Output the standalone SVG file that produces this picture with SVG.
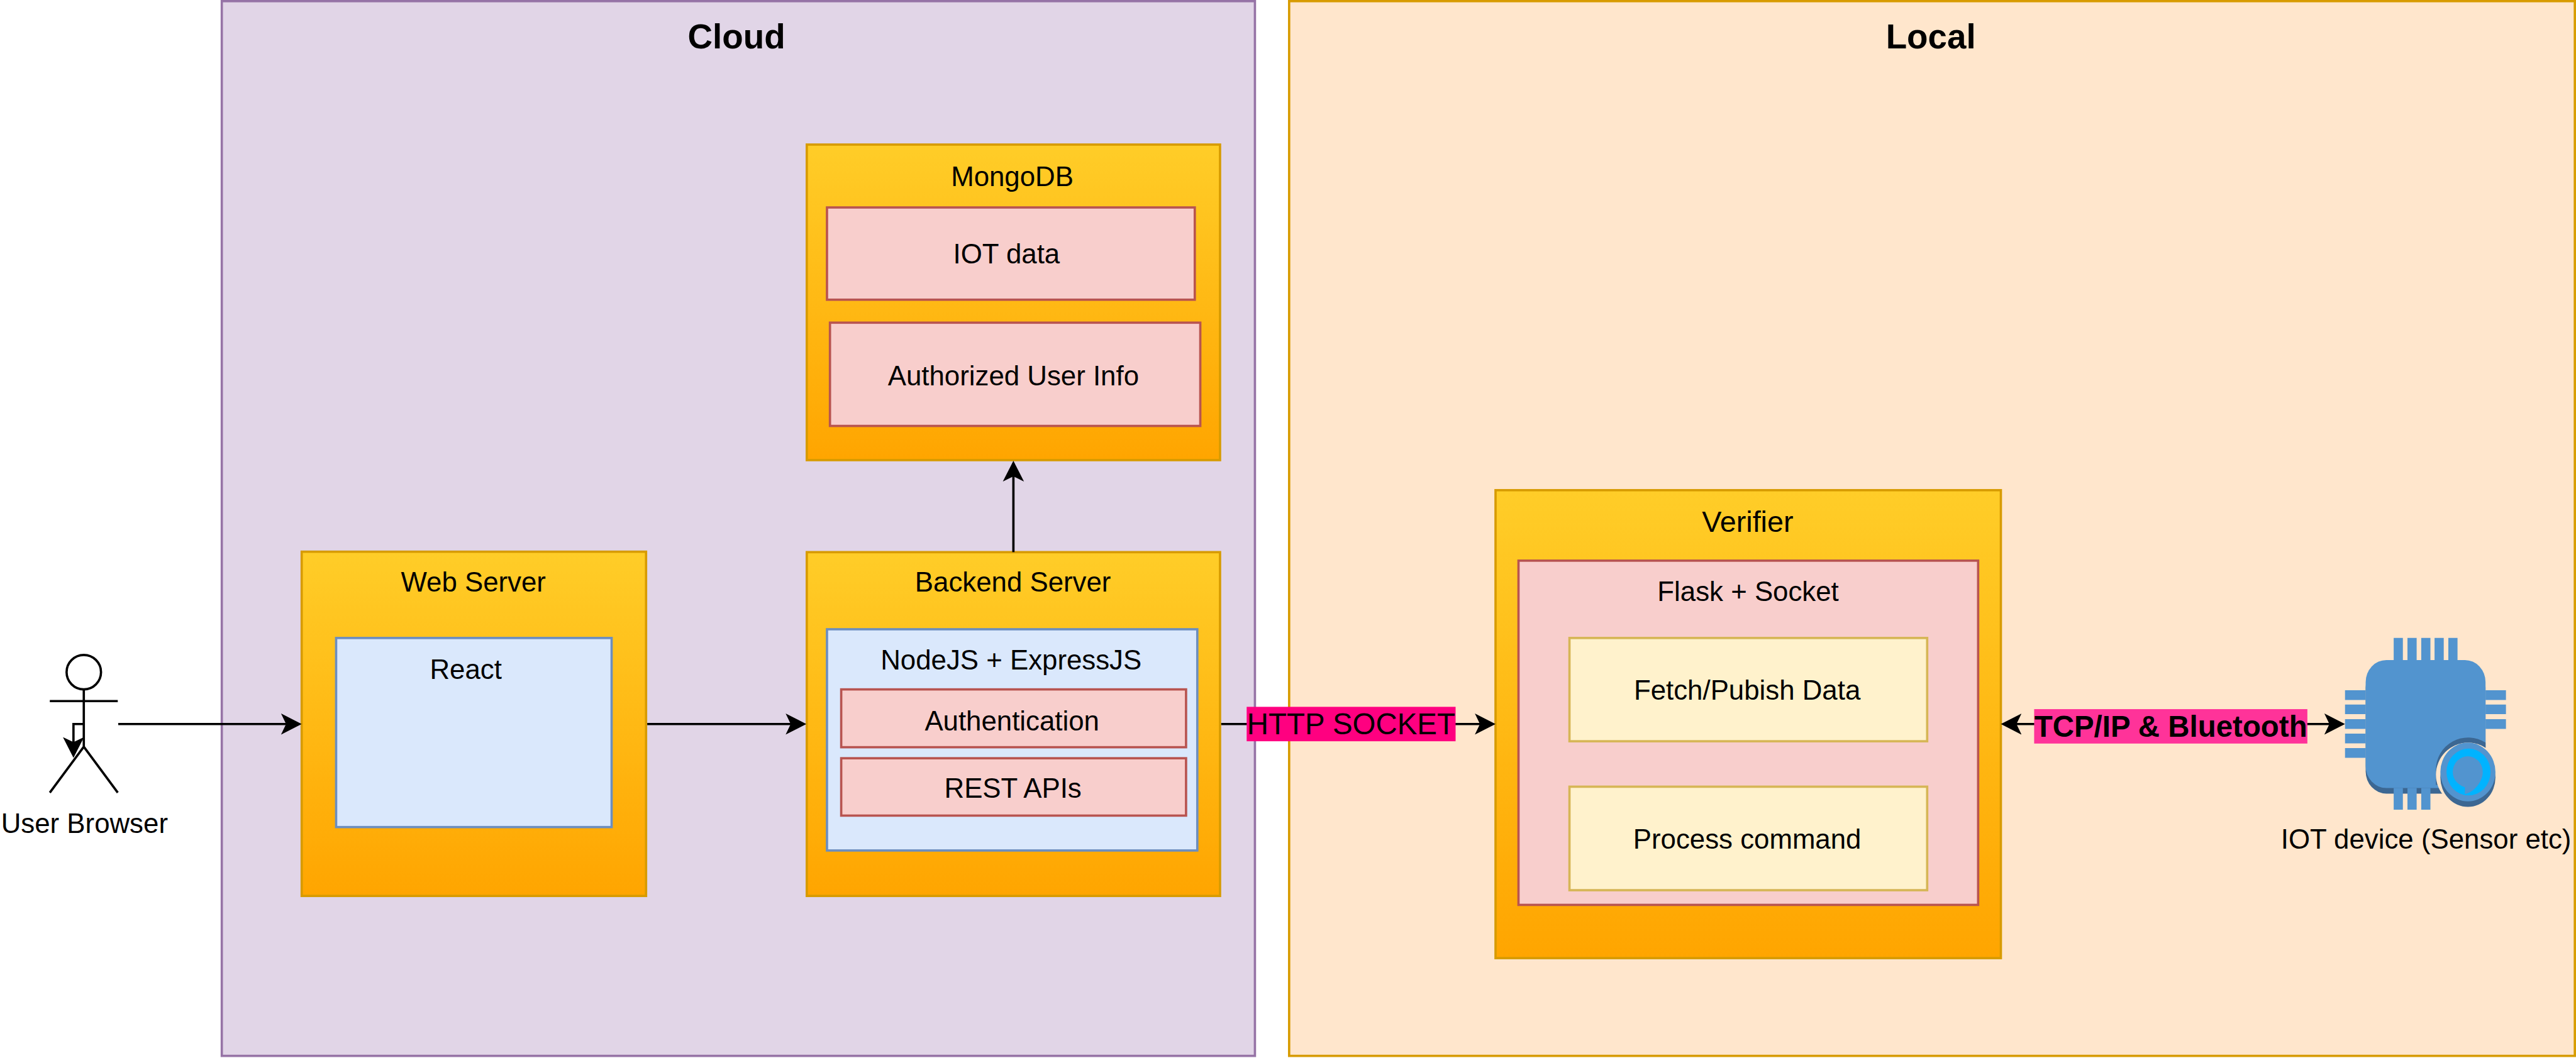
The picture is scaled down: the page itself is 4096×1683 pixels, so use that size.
<svg xmlns="http://www.w3.org/2000/svg" width="4096" height="1683" viewBox="0 0 4096 1683">
<style>
text{font-family:"Liberation Sans",Arial,sans-serif;font-size:60px;fill:#000;text-anchor:middle}
.title{font-size:75px;font-weight:bold}
.edge{font-size:65px}
.big{font-size:64px}
.bold{font-weight:bold}
rect,ellipse,path.s{stroke-width:5}
.grad{fill:url(#g);stroke:#d79b00}
.blue{fill:#dae8fc;stroke:#6c8ebf}
.red{fill:#f8cecc;stroke:#b85450}
.yellow{fill:#fff2cc;stroke:#d6b656}
.cloud{fill:#e1d5e7;stroke:#9673a6}
.local{fill:#ffe6cc;stroke:#d79b00}
.chip{fill:#5294cf;stroke:none}
.dark{fill:#3c6792;stroke:none}
.actor{fill:none;stroke:#000;stroke-width:5}
.conn{fill:none;stroke:#000;stroke-width:5;marker-end:url(#arrow)}
.both{marker-start:url(#arrow)}
</style>
<defs>
<linearGradient id="g" x1="0" y1="0" x2="0" y2="1"><stop offset="0" stop-color="#ffcd28"/><stop offset="1" stop-color="#ffa500"/></linearGradient>
<marker id="arrow" markerUnits="userSpaceOnUse" markerWidth="50" markerHeight="50" refX="40" refY="23" orient="auto-start-reverse" viewBox="0 0 50 46"><path d="M0 0L45 23L0 46L11 23Z" fill="#000"/></marker>
</defs>
<rect width="4096" height="1683" fill="#fff" style="stroke:none"/>
<g transform="scale(0.73012)">
<g id="cloud"><rect class="cloud" x="483" y="2.5" width="2250" height="2298"/><text class="title" x="1604" y="105">Cloud</text></g>
<g id="local"><rect class="local" x="2807.5" y="2.5" width="2800" height="2298"/><text class="title" x="4205" y="105">Local</text></g>
<g id="user-browser">
<ellipse class="actor" cx="182.5" cy="1464.5" rx="37.5" ry="37.5"/>
<path class="actor" d="M182.5 1502V1627M108.5 1527.5H256.5M108.5 1727L182.5 1627L256.5 1727"/>
<text x="184" y="1815">User Browser</text>
</g>
<g id="web-server"><rect class="grad" x="657" y="1202" width="750" height="750"/><text x="1031" y="1289.5">Web Server</text>
<g id="react"><rect class="blue" x="732" y="1390" width="600" height="412"/><text x="1014.5" y="1479.5">React</text></g></g>
<g id="backend-server"><rect class="grad" x="1757" y="1203" width="900" height="749"/><text x="2206" y="1289">Backend Server</text>
<g id="nodejs"><rect class="blue" x="1801" y="1371" width="806.5" height="482"/><text x="2202" y="1458">NodeJS + ExpressJS</text></g>
<g id="authentication"><rect class="red" x="1832" y="1502" width="751" height="126"/><text x="2204" y="1591">Authentication</text></g>
<g id="rest-apis"><rect class="red" x="1832" y="1652" width="751" height="125"/><text x="2206" y="1738">REST APIs</text></g></g>
<g id="mongodb"><rect class="grad" x="1757" y="315" width="900" height="687.5"/><text x="2204.5" y="405">MongoDB</text>
<g id="iot-data"><rect class="red" x="1801" y="452" width="801" height="201"/><text x="2192" y="574">IOT data</text></g>
<g id="user-info"><rect class="red" x="1807.5" y="703" width="806.5" height="225"/><text x="2207" y="840">Authorized User Info</text></g></g>
<g id="verifier"><rect class="grad" x="3257" y="1068" width="1100.5" height="1019.5"/><text class="big" x="3806" y="1159">Verifier</text>
<g id="flask"><rect class="red" x="3307" y="1221.5" width="1001" height="750"/><text x="3807" y="1309.5">Flask + Socket</text></g>
<g id="fetch"><rect class="yellow" x="3418" y="1390" width="779" height="225"/><text x="3805" y="1524.5">Fetch/Pubish Data</text></g>
<g id="process"><rect class="yellow" x="3418" y="1714" width="779" height="225.5"/><text x="3805" y="1848.5">Process command</text></g></g>
<g id="iot-device">
<rect class="dark" x="5152" y="1450" width="261" height="279" rx="45" ry="48"/>
<rect class="chip" x="5152" y="1438" width="261" height="279" rx="45" ry="48"/>
<path class="dark" d="M5413 1618A70 70 0 0 0 5305 1677V1710H5413Z"/>
<ellipse fill="#ffe6cc" style="stroke:none" cx="5375" cy="1688" rx="70" ry="70"/>
<ellipse class="dark" cx="5374.6" cy="1694" rx="60" ry="64"/>
<ellipse class="chip" cx="5374.6" cy="1682" rx="60" ry="64"/>
<ellipse fill="#00b3ff" style="stroke:none" cx="5376" cy="1682" rx="48" ry="51"/>
<path class="chip" d="M5368 1730V1715C5350 1710 5341.6 1695 5341.6 1682A32.7 34.5 0 0 1 5407 1682C5407 1705 5385 1728 5368 1730Z"/>
<path class="chip" d="M5213 1390h20v48h-20zM5243 1390h20v48h-20zM5273 1390h20v48h-20zM5302 1390h20v48h-20zM5332 1390h20v48h-20zM5213 1717h20v47h-20zM5243 1717h20v47h-20zM5273 1717h20v47h-20zM5107 1504h45v21h-45zM5107 1535h45v21h-45zM5107 1567h45v21h-45zM5107 1598.5h45v21h-45zM5107 1630h45v21h-45zM5413 1504h44.5v21h-44.5zM5413 1535h44.5v21h-44.5zM5413 1567h44.5v21h-44.5z"/>
<text x="5283.5" y="1849">IOT device (Sensor etc)</text>
</g>
<g id="connectors">
<path class="conn" d="M182 1577.5H160V1646"/>
<path class="conn" d="M257.5 1577.5H652"/>
<path class="conn" d="M1409.5 1577.5H1751"/>
<path class="conn" d="M2207 1203V1009"/>
<path class="conn" d="M2659.5 1577.5H3252"/>
<path class="conn both" d="M4362.5 1577.5H5102"/>
<g id="label-http"><rect x="2715" y="1540" width="455" height="75" fill="#ff0080" style="stroke:none"/><text class="edge" x="2942.5" y="1600">HTTP SOCKET</text></g>
<g id="label-tcp"><rect x="4430" y="1545" width="595" height="75" fill="#ff3399" style="stroke:none"/><text class="edge bold" x="4727.5" y="1605">TCP/IP &amp; Bluetooth</text></g>
</g>
</g>
</svg>
